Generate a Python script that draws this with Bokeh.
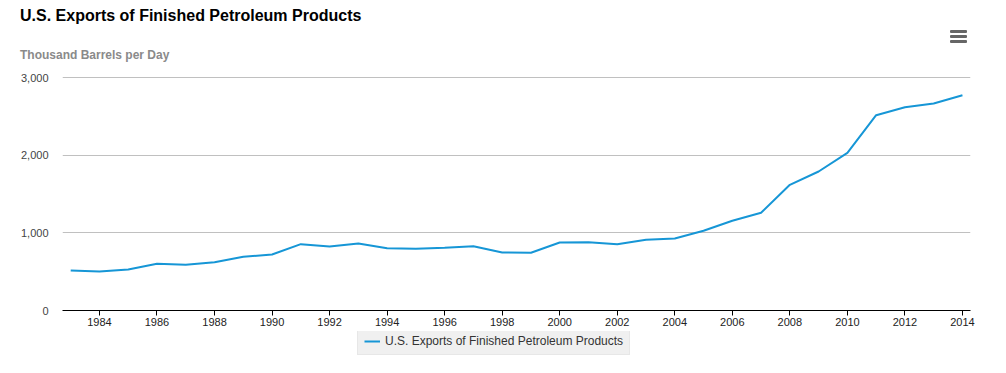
from bokeh.plotting import figure
from bokeh.layouts import column
from bokeh.models import Range1d, Legend, LegendItem, NumeralTickFormatter, FixedTicker, Div
from bokeh.embed import file_html
from bokeh.resources import INLINE

years = list(range(1983, 2015))
exports = [515, 502, 528, 601, 588, 622, 691, 721, 854, 824, 863, 802, 794, 807, 828, 747,
           743, 875, 880, 854, 910, 927, 1026, 1155, 1258, 1618, 1790, 2030, 2515, 2618, 2665, 2772]
x_ticks = list(range(1984, 2015, 2))
y_ticks = [0, 1000, 2000, 3000]
title_text = "U.S. Exports of Finished Petroleum Products"
subtitle_text = "Thousand Barrels per Day"
series_name = "U.S. Exports of Finished Petroleum Products"

FONT = "Liberation Sans"
LINE_COLOR = "#1696d6"
W = 1000

# ---- header: title, subtitle, menu icon
bar = ("position:absolute;left:950px;width:17px;height:3px;"
       "background:#666666;border-radius:1px;")
header_html = (
    f'<div style="position:relative;width:{W}px;height:70px;font-family:\'{FONT}\',Arial,sans-serif;">'
    f'<div style="position:absolute;left:20px;top:8px;font-size:16px;line-height:16px;'
    f'font-weight:bold;color:#000000;white-space:nowrap;">{title_text}</div>'
    f'<div style="position:absolute;left:20px;top:49px;font-size:12px;line-height:12px;'
    f'font-weight:bold;color:#8a8a8a;white-space:nowrap;">{subtitle_text}</div>'
    f'<div style="{bar}top:30px;"></div>'
    f'<div style="{bar}top:35px;"></div>'
    f'<div style="{bar}top:40px;"></div>'
    '</div>'
)
head = Div(text=header_html, width=W, height=70, margin=0)

# ---- main chart
p = figure(width=W, height=261, output_backend="svg", toolbar_location=None,
           x_range=Range1d(1982.715, 2014.28), y_range=Range1d(0, 3013),
           min_border_left=62, min_border_right=30, min_border_top=6, min_border_bottom=21)
p.outline_line_color = None
p.background_fill_color = "white"
p.border_fill_color = "white"

r = p.line(years, exports, line_color=LINE_COLOR, line_width=2)

p.xaxis.ticker = FixedTicker(ticks=x_ticks)
p.xaxis.axis_line_color = "#000000"
p.xaxis.major_tick_line_color = "#000000"
p.xaxis.major_tick_out = 5
p.xaxis.major_tick_in = 0
p.xaxis.minor_tick_line_color = None
p.xaxis.major_label_standoff = 2
p.xaxis.major_label_text_font = FONT
p.xaxis.major_label_text_font_size = "11px"
p.xaxis.major_label_text_color = "#222222"

p.yaxis.ticker = FixedTicker(ticks=y_ticks)
p.yaxis.formatter = NumeralTickFormatter(format="0,0")
p.yaxis.axis_line_color = None
p.yaxis.major_tick_line_color = None
p.yaxis.minor_tick_line_color = None
p.yaxis.major_label_standoff = 8
p.yaxis.major_label_text_font = FONT
p.yaxis.major_label_text_font_size = "11px"
p.yaxis.major_label_text_color = "#444444"

p.xgrid.grid_line_color = None
p.ygrid.grid_line_color = "#c0c0c0"
p.ygrid.grid_line_width = 1

# ---- legend strip (the series is drawn out of view here, only its swatch shows)
leg = figure(width=W, height=34, output_backend="svg", toolbar_location=None,
             x_axis_location=None, y_axis_location=None,
             x_range=Range1d(0, 1), y_range=Range1d(0, 1),
             min_border=0, min_border_top=0, min_border_bottom=0)
leg.outline_line_color = None
leg.grid.visible = False
leg.background_fill_color = "white"
leg.border_fill_color = "white"
swatch = leg.line(years, exports, line_color=LINE_COLOR, line_width=2)
legend = Legend(items=[LegendItem(label=series_name, renderers=[swatch])],
                location=(295, 10), orientation="horizontal",
                background_fill_color="#f0f0f0", background_fill_alpha=1,
                border_line_color="#dddddd", border_line_width=1,
                label_text_font=FONT, label_text_font_size="12px", label_text_color="#333333",
                padding=6, glyph_width=16, glyph_height=12, label_height=12,
                label_standoff=5, margin=0, spacing=0)
leg.add_layout(legend, "center")

layout = column(head, p, leg, spacing=0)
open("out.html", "w").write(file_html(layout, INLINE))
